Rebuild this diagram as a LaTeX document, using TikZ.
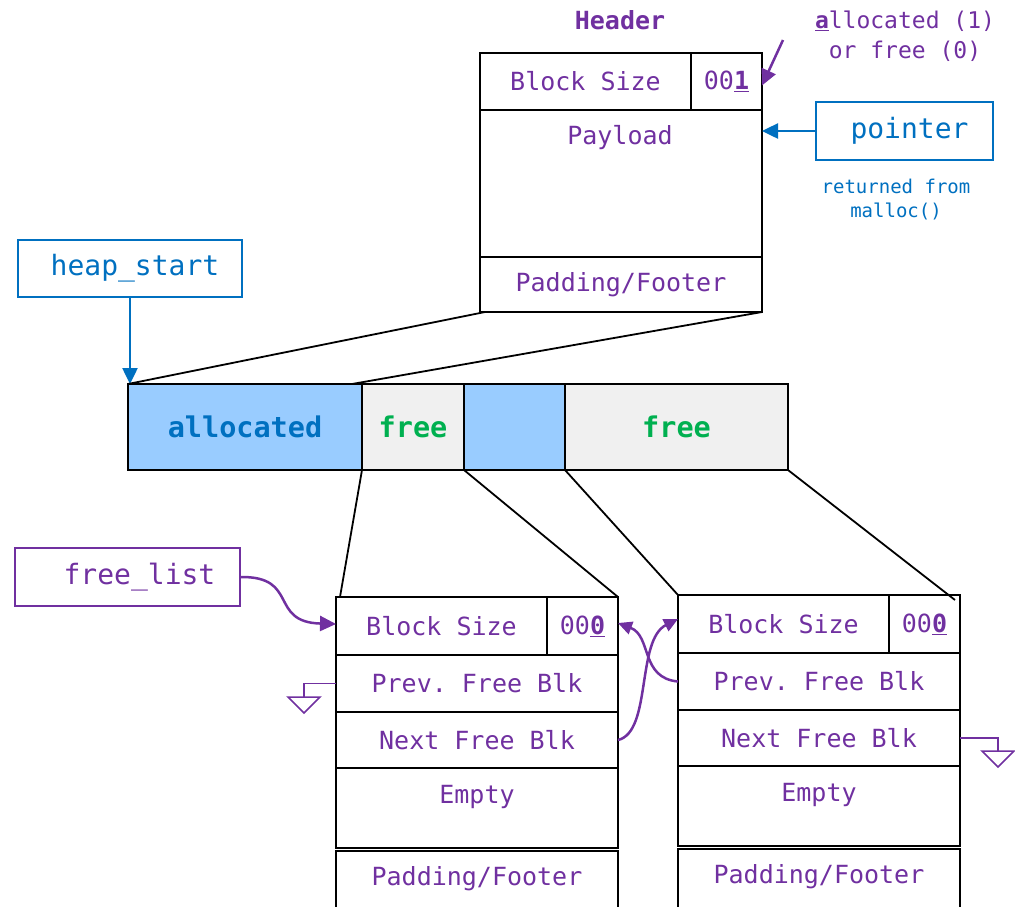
\documentclass[tikz,border=0pt]{standalone}
\usepackage{fontspec}
\setmonofont{DejaVu Sans Mono}
\usetikzlibrary{arrows.meta}
\definecolor{vio}{HTML}{7030A0}
\definecolor{ablue}{HTML}{0070C0}
\definecolor{allocfill}{HTML}{99CCFF}
\definecolor{freefill}{HTML}{F0F0F0}
\definecolor{fgreen}{HTML}{00B050}
\newcommand{\fs}[1]{\fontsize{#1}{#1}\selectfont\ttfamily}
\tikzset{
  cell/.style={draw=black, line width=2pt, inner sep=0pt, outer sep=0pt,
    anchor=north west, text=vio, font=\fs{25}},
  celltext/.style={text=vio, font=\fs{25}, inner sep=0pt},
  seg/.style={draw=black, line width=2pt, inner sep=0pt, outer sep=0pt,
    anchor=north west, minimum height=86pt, font=\fs{28.5}\bfseries},
  ptrbox/.style={draw=#1, line width=2pt, inner sep=0pt, outer sep=0pt,
    anchor=north west, text=#1, font=\fs{28}},
  link/.style={line width=1.8pt},
  ground/.style={draw=vio, line width=1.5pt},
  varrow/.style={draw=vio, line width=2.5pt, -{Triangle[length=16pt,width=15pt]}},
  sarrow/.style={draw=vio, line width=2.5pt, -{Triangle[length=14pt,width=13pt]}},
  barrow/.style={draw=ablue, line width=2.5pt, -{Triangle[length=16pt,width=15pt]}},
}
\begin{document}
\begin{tikzpicture}[x=1pt,y=-1pt]
\clip (0,0) rectangle (1015,906);
\useasboundingbox (0,0) rectangle (1015,906);

% ---- block layout in detail: allocated block ----
\node[text=vio, font=\fs{25}\bfseries, inner sep=0pt] (hdr) at (620,20) {Header};
\node[cell, minimum width=211pt, minimum height=57pt] (hbs) at (480,53) {Block Size};
\node[cell, minimum width=71pt, minimum height=57pt] (hflag) at (691,53) {00\underline{\textbf{1}}};
\node[cell, minimum width=282pt, minimum height=147pt] (hpay) at (480,110) {};
\node[celltext] (hpaytxt) at (620,138) {Payload};
\node[cell, minimum width=282pt, minimum height=55pt] (hpad) at (480,257) {Padding/Footer};

\node[text=vio, font=\fs{23}, inner sep=0pt, align=center] (abit) at (905,36)
  {\underline{\textbf{a}}llocated (1)\\[7pt]or free (0)};
\coordinate (abittail) at (783,40);
\draw[varrow] (abittail) -- ([yshift=-4pt]hflag.east);

\node[ptrbox=ablue, minimum width=177pt, minimum height=58pt] (ptr) at (816,102) {\hspace*{10pt}pointer};
\draw[barrow] (ptr.west) -- (ptr.west -| hpay.east);
\node[text=ablue, font=\fs{19}, inner sep=0pt, align=center] (ret) at (896,200)
  {returned from\\[5pt]malloc()};

% ---- the heap ----
\node[ptrbox=ablue, minimum width=224pt, minimum height=57pt] (hs) at (18,240) {\hspace*{10pt}heap\_start};

\node[seg, fill=allocfill, text=ablue, minimum width=234pt] (b1) at (128,384) {allocated};
\node[seg, fill=freefill, text=fgreen, minimum width=102pt] (b2) at (362,384) {free};
\node[seg, fill=allocfill, minimum width=101pt] (b3) at (464,384) {};
\node[seg, fill=freefill, text=fgreen, minimum width=223pt] (b4) at (565,384) {free};

\draw[barrow] (hs.south) -- (hs.south |- b1.north);

\draw[link] ([xshift=5pt]hpad.south west) -- (b1.north west);
\draw[link] (hpad.south east) -- ([xshift=-10pt]b2.north west);

% ---- first free block ----
\node[cell, minimum width=211pt, minimum height=58pt] (lbs) at (336,597) {Block Size};
\node[cell, minimum width=71pt, minimum height=58pt] (lflag) at (547,597) {00\underline{\textbf{0}}};
\node[cell, minimum width=282pt, minimum height=57pt] (lprev) at (336,655) {Prev. Free Blk};
\node[cell, minimum width=282pt, minimum height=56pt] (lnext) at (336,712) {Next Free Blk};
\node[cell, minimum width=282pt, minimum height=80pt] (lempty) at (336,768) {};
\node[celltext] (lemptytxt) at (477,797) {Empty};
\node[cell, minimum width=282pt, minimum height=70pt] (lpad) at (336,851) {};
\node[celltext] (lpadtxt) at (477,879) {Padding/Footer};

% ---- second free block ----
\node[cell, minimum width=211pt, minimum height=58pt] (rbs) at (678,595) {Block Size};
\node[cell, minimum width=71pt, minimum height=58pt] (rflag) at (889,595) {00\underline{\textbf{0}}};
\node[cell, minimum width=282pt, minimum height=57pt] (rprev) at (678,653) {Prev. Free Blk};
\node[cell, minimum width=282pt, minimum height=56pt] (rnext) at (678,710) {Next Free Blk};
\node[cell, minimum width=282pt, minimum height=80pt] (rempty) at (678,766) {};
\node[celltext] (remptytxt) at (819,795) {Empty};
\node[cell, minimum width=282pt, minimum height=70pt] (rpad) at (678,849) {};
\node[celltext] (rpadtxt) at (819,877) {Padding/Footer};

% zoom lines from the heap to the free blocks
\draw[link] (b2.south west) -- ([xshift=4pt]lbs.north west);
\draw[link] (b2.south east) -- (lflag.north east);
\draw[link] (b3.south east) -- (rbs.north west);
\draw[link] (b4.south east) -- ([xshift=-5pt,yshift=-5pt]rflag.north east);

% free list head
\node[ptrbox=vio, minimum width=225pt, minimum height=58pt] (fl) at (15,548) {\hspace*{24pt}free\_list};
\draw[varrow] (fl.east) .. controls (300,576) and (268,622) .. ([yshift=2pt]lbs.west);

% null pointers
\coordinate (gl) at (304,697);
\draw[ground] (lprev.west) -| (gl);
\draw[ground] ([xshift=-16pt]gl) -- ([xshift=16pt]gl) -- ([yshift=-16pt]gl) -- cycle;
\coordinate (gr) at (998,751);
\draw[ground] (rnext.east) -| (gr);
\draw[ground] ([xshift=-16pt]gr) -- ([xshift=16pt]gr) -- ([yshift=-16pt]gr) -- cycle;

% links between the free blocks
\draw[sarrow] (lnext.east) .. controls (652,732) and (636,640) .. ([yshift=5pt]rbs.west);
\draw[sarrow] (rprev.west) .. controls (640,678) and (652,636) .. ([yshift=3pt]lflag.east);
\end{tikzpicture}
\end{document}
